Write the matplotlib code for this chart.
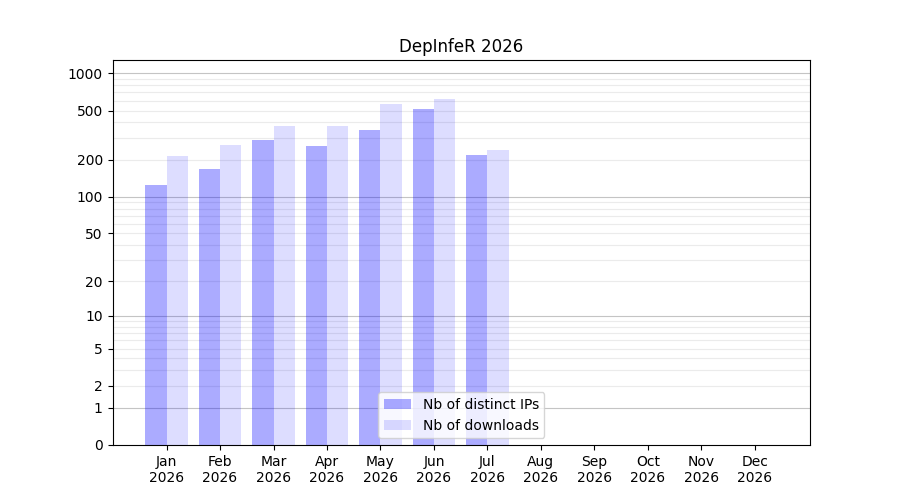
import numpy as np
import matplotlib
matplotlib.use("Agg")
import matplotlib.pyplot as plt
from matplotlib.ticker import FixedLocator

months = ["Jan", "Feb", "Mar", "Apr", "May", "Jun", "Jul", "Aug", "Sep", "Oct", "Nov", "Dec"]
year = "2026"
distinct_ips = [124, 167, 287, 257, 346, 512, 217]
downloads = [213, 262, 373, 373, 561, 616, 238]


def fwd(x):
    return np.log10(1 + np.clip(x, 0, None))


def inv(y):
    return 10 ** y - 1


fig, ax = plt.subplots(figsize=(9, 5), dpi=100)

x = np.arange(len(distinct_ips))
ax.bar(x, distinct_ips, width=-0.4, align="edge", color="blue", alpha=0.33,
       label="Nb of distinct IPs", zorder=2)
ax.bar(x, downloads, width=0.4, align="edge", color="blue", alpha=0.135,
       label="Nb of downloads", zorder=2)

ax.set_yscale("function", functions=(fwd, inv))
ax.set_ylim(0, 1280)
ax.set_xlim(-1.01, 12.03)

major = [0, 1, 2, 5, 10, 20, 50, 100, 200, 500, 1000]
ax.yaxis.set_major_locator(FixedLocator(major))
ax.set_yticklabels([str(v) for v in major])
ax.yaxis.set_minor_locator(FixedLocator([]))

# grid lines: darker on decades, light for the rest
for d in [1, 10, 100]:
    for k in range(2, 10):
        ax.axhline(d * k, color="#ebebeb", lw=0.8, zorder=1)
for d in [1, 10, 100, 1000]:
    ax.axhline(d, color="#c4c4c4", lw=0.8, zorder=1)

ax.set_xticks(np.arange(12))
ax.set_xticklabels([f"{m}\n{year}" for m in months])
ax.set_title("DepInfeR 2026")
ax.legend(loc="lower center")

fig.savefig("out.png")
